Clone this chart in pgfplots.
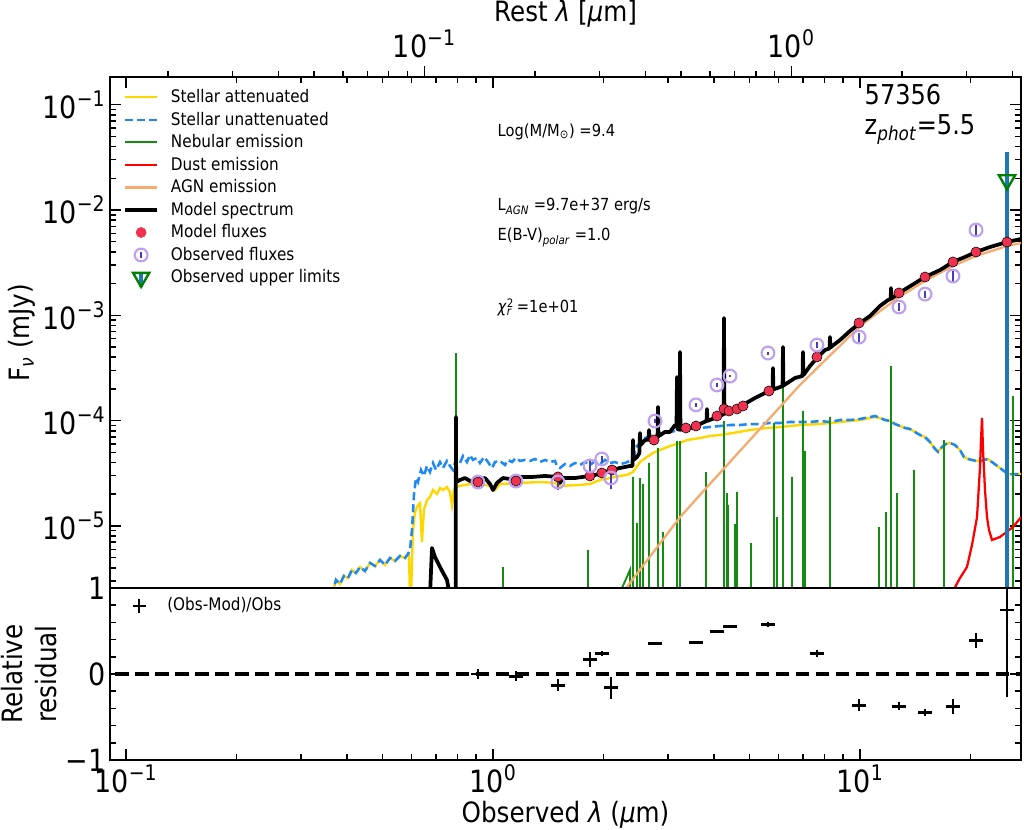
\documentclass[border=0pt]{standalone}
\usepackage{fontspec}
\setmainfont{DejaVu Sans}[FakeStretch=0.88]
\usepackage{pgfplots}
\usepackage{pgfplotstable}
\pgfplotsset{compat=1.18}

\definecolor{stelatt}{RGB}{255,215,0}
\definecolor{stelunatt}{RGB}{30,136,245}
\definecolor{nebular}{RGB}{20,140,20}
\definecolor{dustc}{RGB}{255,0,0}
\definecolor{agnc}{RGB}{246,170,110}
\definecolor{modflux}{RGB}{240,50,80}
\definecolor{obsring}{RGB}{190,160,240}
\definecolor{obsbar}{RGB}{70,60,190}
\definecolor{ulbar}{RGB}{31,119,180}
\definecolor{ulgreen}{RGB}{0,128,0}

% stellar continuum, unattenuated (wavelength in micron, flux in mJy)
\pgfplotstableread{
wl f
0.3641 2.16e-6
0.3733 3.07e-6
0.3829 2.81e-6
0.3926 3.35e-6
0.4026 3.20e-6
0.4129 3.82e-6
0.4233 3.57e-6
0.4341 4.07e-6
0.4479 3.73e-6
0.4623 4.45e-6
0.4771 4.16e-6
0.4922 4.75e-6
0.5080 4.26e-6
0.5241 4.96e-6
0.5408 4.64e-6
0.5580 5.18e-6
0.5757 4.96e-6
0.5867 5.41e-6
0.5941 5.91e-6
0.6016 9.14e-6
0.6092 1.97e-5
0.6169 2.85e-5
0.6247 2.61e-5
0.6365 3.40e-5
0.6485 2.98e-5
0.6609 3.71e-5
0.6735 3.25e-5
0.6863 3.96e-5
0.6993 3.40e-5
0.7172 4.04e-5
0.7308 3.55e-5
0.7491 4.14e-5
0.7634 3.71e-5
0.7779 3.40e-5
0.7927 4.32e-5
0.8129 3.96e-5
0.8284 4.61e-5
0.8495 4.04e-5
0.8656 4.71e-5
0.8822 4.23e-5
0.9046 4.42e-5
0.9217 3.96e-5
0.9451 4.51e-5
0.9691 4.04e-5
0.9937 3.55e-5
1.0126 4.04e-5
1.0449 4.14e-5
1.0782 3.79e-5
1.0987 4.23e-5
1.1265 4.04e-5
1.1551 4.42e-5
1.1846 4.14e-5
1.2224 4.23e-5
1.2613 4.14e-5
1.3015 4.32e-5
1.3430 4.04e-5
1.3858 4.23e-5
1.4300 4.04e-5
1.4756 4.14e-5
1.4942 3.71e-5
1.5226 3.55e-5
1.5711 3.87e-5
1.6211 3.71e-5
1.6728 3.96e-5
1.7262 3.79e-5
1.7812 4.04e-5
1.8380 3.79e-5
1.8965 4.14e-5
1.9570 3.87e-5
2.0194 4.23e-5
2.0838 3.96e-5
2.1500 4.04e-5
2.2186 3.87e-5
2.2893 3.96e-5
2.3622 4.14e-5
2.4222 4.71e-5
2.4683 5.74e-5
2.5152 6.13e-5
2.5953 6.83e-5
2.6779 7.14e-5
2.7633 7.14e-5
2.8514 7.46e-5
3.0360 7.80e-5
3.2328 8.14e-5
3.4419 8.32e-5
3.6647 8.51e-5
3.9019 8.69e-5
4.1547 8.89e-5
4.4237 9.08e-5
4.7099 9.08e-5
5.0150 9.28e-5
5.3396 9.28e-5
5.6849 9.49e-5
6.0530 9.49e-5
6.4448 9.70e-5
6.8624 9.70e-5
7.3065 9.70e-5
7.7799 9.91e-5
8.2836 9.70e-5
8.8198 1.013e-4
9.3921 1.013e-4
10.000 1.036e-4
10.648 1.082e-4
10.988 1.106e-4
11.338 1.058e-4
11.700 1.013e-4
12.074 9.91e-5
12.458 9.28e-5
12.854 8.89e-5
13.264 8.51e-5
13.686 8.32e-5
14.122 7.80e-5
14.572 7.30e-5
15.036 6.99e-5
15.515 6.26e-5
16.010 5.38e-5
16.315 5.04e-5
16.729 5.62e-5
17.153 6.00e-5
17.588 6.13e-5
18.149 5.87e-5
18.729 5.26e-5
19.205 4.51e-5
19.693 4.32e-5
20.192 4.23e-5
20.708 4.14e-5
21.233 4.14e-5
21.771 4.23e-5
22.324 4.32e-5
22.891 4.04e-5
23.471 3.79e-5
24.068 3.55e-5
24.679 3.32e-5
25.311 3.11e-5
26.282 3.11e-5
27.460 3.11e-5
}\stelunatt

% stellar continuum, attenuated
\pgfplotstableread{
wl f
0.3641 2.16e-6
0.3733 3.07e-6
0.3829 2.81e-6
0.3926 3.35e-6
0.4026 3.20e-6
0.4129 3.82e-6
0.4233 3.57e-6
0.4341 4.07e-6
0.4479 3.73e-6
0.4623 4.45e-6
0.4771 4.16e-6
0.4922 4.75e-6
0.5080 4.26e-6
0.5241 4.96e-6
0.5408 4.64e-6
0.5580 5.18e-6
0.5757 4.96e-6
0.5867 5.41e-6
0.5904 5.18e-6
0.5941 2.16e-6
0.5978 2.16e-6
0.6054 9.14e-6
0.6130 1.35e-5
0.6247 1.58e-5
0.6325 1.65e-5
0.6405 7.03e-6
0.6485 1.42e-5
0.6609 1.76e-5
0.6735 1.88e-5
0.6863 2.19e-5
0.7037 2.01e-5
0.7172 2.29e-5
0.7308 2.19e-5
0.7491 2.34e-5
0.7634 2.10e-5
0.7731 1.58e-5
0.7828 2.19e-5
0.7927 2.34e-5
0.8129 2.40e-5
0.8656 2.50e-5
0.9217 2.50e-5
0.9814 2.40e-5
1.0126 2.19e-5
1.0449 2.50e-5
1.1846 2.56e-5
1.3430 2.61e-5
1.4849 2.56e-5
1.5036 2.29e-5
1.5226 2.40e-5
1.7262 2.45e-5
1.8380 2.50e-5
1.9570 2.73e-5
2.0838 2.85e-5
2.2186 2.98e-5
2.3182 3.05e-5
2.4071 3.25e-5
2.5152 4.04e-5
2.6280 4.51e-5
2.7288 4.93e-5
2.8514 5.26e-5
3.0360 5.74e-5
3.2328 6.13e-5
3.3777 6.54e-5
3.6647 6.83e-5
3.9019 7.14e-5
4.1547 7.30e-5
4.5077 7.63e-5
5.0150 8.14e-5
5.5788 8.51e-5
6.0530 8.69e-5
6.8624 9.08e-5
7.7799 9.28e-5
8.8198 9.70e-5
10.000 1.013e-4
10.648 1.058e-4
10.988 1.082e-4
11.338 1.058e-4
11.700 1.013e-4
12.074 9.91e-5
12.458 9.28e-5
12.854 8.89e-5
13.264 8.51e-5
13.686 8.32e-5
14.122 7.80e-5
14.572 7.30e-5
15.036 6.99e-5
15.515 6.26e-5
16.010 5.38e-5
16.315 5.04e-5
16.729 5.62e-5
17.153 6.00e-5
17.588 6.13e-5
18.149 5.87e-5
18.729 5.26e-5
19.205 4.51e-5
19.693 4.32e-5
20.192 4.23e-5
20.708 4.14e-5
21.233 4.14e-5
21.771 4.23e-5
22.324 4.32e-5
22.891 4.04e-5
23.471 3.79e-5
24.068 3.55e-5
24.679 3.32e-5
25.311 3.11e-5
26.282 3.11e-5
27.460 3.11e-5
}\stelatt

% nebular lines and continuum (each line drawn up from below the frame)
\pgfplotstableread{
wl f
0.7927 1e-8
0.7927 4.38e-4
0.7927 1e-8
1.0648 1e-8
1.0648 4.07e-6
1.0648 1e-8
1.815 1e-8
1.815 5.91e-6
1.815 1e-8
2.180 1e-8
2.197 2.16e-6
2.3622 3.82e-6
2.400 1e-8
2.4071 1e-8
2.4071 2.92e-5
2.4071 1e-8
2.4683 1e-8
2.4683 1.07e-5
2.4683 1e-8
2.5152 1e-8
2.5152 2.85e-5
2.5152 1e-8
2.5629 1e-8
2.5629 2.50e-5
2.5629 1e-8
2.6612 1e-8
2.6612 3.96e-5
2.6612 1e-8
2.8158 1e-8
2.8158 5.50e-5
2.8158 1e-8
2.9055 1e-8
2.9055 8.75e-6
2.9055 1e-8
3.1723 1e-8
3.1723 6.40e-5
3.1723 1e-8
3.2328 1e-8
3.2328 6.40e-5
3.2328 1e-8
3.8052 1e-8
3.8052 3.25e-5
3.8052 1e-8
4.2603 1e-8
4.2603 9.91e-5
4.2603 1e-8
4.3412 1e-8
4.3412 2.05e-5
4.3412 1e-8
4.3685 1e-8
4.3685 1.58e-5
4.3685 1e-8
4.5646 1e-8
4.5646 1.04e-5
4.5646 1e-8
4.6222 1e-8
4.6222 2.10e-5
4.6222 1e-8
5.0466 1e-8
5.0466 6.88e-6
5.0466 1e-8
5.8294 1e-8
5.8294 9.49e-5
5.8294 1e-8
5.9401 1e-8
5.9401 1.21e-5
5.9401 1e-8
6.1681 1e-8
6.1681 2.13e-4
6.1681 1e-8
6.5261 1e-8
6.5261 2.92e-5
6.5261 1e-8
6.9929 1e-8
6.9929 1.234e-4
6.9929 1e-8
7.0811 1e-8
7.0811 5.14e-5
7.0811 1e-8
8.2836 1e-8
8.2836 1.082e-4
8.2836 1e-8
11.267 1e-8
11.267 9.76e-6
11.267 1e-8
11.774 1e-8
11.774 1.35e-5
11.774 1e-8
12.150 1e-8
12.150 3.30e-4
12.150 1e-8
12.615 1e-8
12.615 2.05e-5
12.615 1e-8
14.034 1e-8
14.034 3.40e-5
14.034 1e-8
16.940 1e-8
16.940 6.54e-5
16.940 1e-8
26.118 1e-8
26.118 1.71e-4
26.118 1e-8
}\nebular

% dust emission
\pgfplotstableread{
wl f
17.370 1.97e-6
18.729 3.20e-6
19.570 4.07e-6
20.192 6.59e-6
20.838 1.21e-5
21.233 3.62e-5
21.366 6.54e-5
21.501 1.058e-4
21.636 5.26e-5
21.908 2.19e-5
22.184 1.21e-5
22.465 9.14e-6
22.891 7.35e-6
24.068 7.85e-6
26.118 9.76e-6
27.460 1.21e-5
}\dust

% AGN emission
\pgfplotstableread{
wl f
2.2186 2.16e-6
3.2328 1.21e-5
3.6647 1.97e-5
6.8624 2.18e-4
10.000 7.91e-4
12.774 1.49e-3
15.036 2.12e-3
17.923 2.94e-3
20.708 3.66e-3
25.152 4.55e-3
27.460 4.86e-3
}\agn

% total model spectrum
\pgfplotstableread{
wl f
0.6735 2.16e-6
0.6820 6.17e-6
0.6950 5.07e-6
0.7172 4.07e-6
0.7491 3.07e-6
0.7634 2.16e-6
0.7915 2.16e-6
0.7927 1.082e-4
0.7940 2.61e-5
0.8129 2.73e-5
0.8389 2.85e-5
0.8656 2.67e-5
0.9102 2.73e-5
0.9510 2.85e-5
0.9814 2.50e-5
1.0000 2.19e-5
1.0254 2.56e-5
1.0648 2.85e-5
1.1125 2.79e-5
1.1846 2.92e-5
1.2853 2.92e-5
1.3858 2.98e-5
1.4942 2.92e-5
1.5226 2.56e-5
1.5515 2.85e-5
1.6728 2.85e-5
1.8380 2.98e-5
1.9570 3.11e-5
2.1100 3.40e-5
2.2186 3.55e-5
2.3622 3.71e-5
2.3995 3.71e-5
2.4071 6.54e-5
2.4150 4.23e-5
2.4683 4.51e-5
2.5050 4.90e-5
2.5152 7.63e-5
2.5250 5.87e-5
2.5953 6.54e-5
2.6520 6.60e-5
2.6612 8.14e-5
2.6700 6.54e-5
2.7460 6.83e-5
2.8080 6.95e-5
2.8158 1.35e-4
2.8240 7.10e-5
2.9422 7.80e-5
3.0360 7.80e-5
3.1328 9.08e-5
3.1630 8.90e-5
3.1723 2.59e-4
3.1810 8.30e-5
3.2240 8.20e-5
3.2328 4.48e-4
3.2420 8.20e-5
3.4419 8.51e-5
3.6647 9.28e-5
3.8190 9.91e-5
3.8292 1.29e-4
3.8390 9.95e-5
4.0264 1.058e-4
4.2490 1.150e-4
4.2603 9.43e-4
4.2720 1.160e-4
4.5646 1.29e-4
4.7994 1.41e-4
5.1746 1.64e-4
5.5788 1.87e-4
5.7780 1.96e-4
5.7929 3.16e-4
5.8080 1.98e-4
6.1520 2.12e-4
6.1681 5.00e-4
6.1840 2.15e-4
6.6502 2.54e-4
6.9750 2.65e-4
6.9929 4.48e-4
7.0110 2.70e-4
7.3065 3.30e-4
7.6348 3.93e-4
8.0278 4.68e-4
8.2620 4.85e-4
8.2836 6.22e-4
8.3050 4.95e-4
8.8198 5.82e-4
9.3921 7.10e-4
10.000 8.45e-4
10.648 9.85e-4
11.338 1.226e-3
11.923 1.397e-3
12.120 1.430e-3
12.150 1.816e-3
12.180 1.440e-3
12.774 1.628e-3
13.859 1.940e-3
15.036 2.31e-3
16.521 2.69e-3
17.923 3.21e-3
19.326 3.58e-3
20.708 3.99e-3
22.606 4.45e-3
25.152 4.97e-3
27.460 5.30e-3
}\model

% model fluxes in the filters
\pgfplotstableread{
wl f
0.910 2.61e-5
1.155 2.67e-5
1.503 2.92e-5
1.838 2.98e-5
1.980 3.18e-5
2.110 3.40e-5
2.746 6.54e-5
3.356 8.51e-5
3.574 8.89e-5
4.077 1.106e-4
4.260 1.289e-4
4.396 1.234e-4
4.622 1.289e-4
4.799 1.376e-4
5.649 1.911e-4
7.635 4.02e-4
9.940 8.45e-4
12.77 1.63e-3
15.04 2.31e-3
17.92 3.21e-3
20.71 3.99e-3
25.15 4.97e-3
}\modfluxes

% observed fluxes with uncertainties
\pgfplotstableread{
wl f err
0.910 2.61e-5 0.35e-5
1.155 2.67e-5 0.35e-5
1.503 2.61e-5 0.40e-5
1.838 3.71e-5 0.50e-5
1.980 4.32e-5 0.30e-5
2.095 2.85e-5 0.60e-5
2.763 9.90e-5 0.50e-5
3.574 1.41e-4 0.05e-4
4.077 2.18e-4 0.08e-4
4.424 2.65e-4 0.08e-4
5.614 4.38e-4 0.15e-4
7.635 5.22e-4 0.30e-4
9.940 6.22e-4 0.60e-4
12.77 1.20e-3 0.10e-3
15.04 1.59e-3 0.12e-3
17.92 2.36e-3 0.30e-3
20.71 6.46e-3 0.80e-3
}\obsfluxes

% relative residuals (Obs-Mod)/Obs
\pgfplotstableread{
wl r err
0.910 0.000 0.063
1.155 -0.024 0.055
1.503 -0.130 0.070
1.838 0.173 0.087
1.980 0.236 0.030
2.095 -0.161 0.126
2.763 0.354 0.0
3.574 0.370 0.0
4.077 0.496 0.010
4.424 0.555 0.010
5.614 0.571 0.030
7.635 0.236 0.040
9.940 -0.366 0.070
12.77 -0.374 0.050
15.04 -0.449 0.040
17.92 -0.382 0.087
20.71 0.394 0.087
25.152 0.744 1.010
}\resid

\begin{document}
\begin{tikzpicture}
\path[use as bounding box] (-82.5pt,-181.5pt) rectangle (685.5pt,441pt);

% rest-frame wavelength axis on top (z = 5.5)
\begin{axis}[
  scale only axis, width=683.25pt, height=383.25pt,
  at={(0,0)}, anchor=south west,
  xmode=log, xmin=0.013917, xmax=4.2246, ymin=0, ymax=1,
  axis x line*=top, hide y axis,
  axis line style={line width=1.2pt},
  every tick/.style={line width=1.1pt, black},
  major tick length=8pt, minor tick length=4.5pt,
  tick align=outside,
  xtick={0.1,1}, xticklabels={10\textsuperscript{−1},10\textsuperscript{0}},
  minor xtick={0.02,0.03,0.04,0.05,0.06,0.07,0.08,0.09,0.2,0.3,0.4,0.5,0.6,0.7,0.8,0.9,2,3,4},
  xticklabel style={font=\fontsize{23}{27}\selectfont, anchor=center, yshift=17pt},
  xlabel={Rest \textit{λ} [\textit{μ}m]},
  xlabel style={font=\fontsize{21}{25}\selectfont, at={(axis description cs:0.5,1.1233)}, anchor=center},
]
\end{axis}

% SED panel
\begin{axis}[
  scale only axis, width=683.25pt, height=383.25pt,
  at={(0,0)}, anchor=south west,
  xmode=log, xmin=0.09046, xmax=27.46,
  ymode=log, ymin=2.572e-6, ymax=0.18329,
  axis line style={line width=1.2pt},
  every tick/.style={line width=1.1pt, black},
  major tick length=8pt, minor tick length=4.5pt,
  tick align=inside,
  xtick={0.1,1,10},
  minor xtick={0.2,0.3,0.4,0.5,0.6,0.7,0.8,0.9,2,3,4,5,6,7,8,9,20},
  xtick pos=right, xticklabels={},
  ytick={1e-5,1e-4,1e-3,1e-2,1e-1},
  yticklabels={10\textsuperscript{−5},10\textsuperscript{−4},10\textsuperscript{−3},10\textsuperscript{−2},10\textsuperscript{−1}},
  minor ytick={3e-6,4e-6,5e-6,6e-6,7e-6,8e-6,9e-6,2e-5,3e-5,4e-5,5e-5,6e-5,7e-5,8e-5,9e-5,2e-4,3e-4,4e-4,5e-4,6e-4,7e-4,8e-4,9e-4,2e-3,3e-3,4e-3,5e-3,6e-3,7e-3,8e-3,9e-3,2e-2,3e-2,4e-2,5e-2,6e-2,7e-2,8e-2,9e-2},
  ytick pos=both, yticklabel pos=left,
  tick label style={font=\fontsize{23}{27}\selectfont},
  ylabel={F\textsubscript{\textit{ν}} (mJy)},
  ylabel style={font=\fontsize{21}{25}\selectfont, at={(axis description cs:-0.0966,0.5)}, anchor=center},
  legend image code/.code={\draw[#1] (0pt,0pt) -- (24pt,0pt);},
  legend cell align=left,
  legend style={at={(axis description cs:0,1)}, anchor=north west,
    xshift=9.75pt, yshift=-8pt, draw=none, fill=none, inner sep=0pt,
    row sep=2.9pt, column sep=9pt,
    nodes={inner sep=0pt, text height=11pt, text depth=3pt, anchor=west},
    font=\fontsize{13}{15}\selectfont},
]
\addplot[stelatt, line width=1.8pt] table {\stelatt};
\addlegendentry{Stellar attenuated}
\addplot[stelunatt, line width=1.9pt, dash pattern=on 6pt off 3pt] table {\stelunatt};
\addlegendentry{Stellar unattenuated}
\addplot[nebular, line width=1.4pt] table {\nebular};
\addlegendentry{Nebular emission}
\addplot[dustc, line width=1.7pt] table {\dust};
\addlegendentry{Dust emission}
\addplot[agnc, line width=1.7pt] table {\agn};
\addlegendentry{AGN emission}
\addplot[black, line width=2.8pt, line join=round] table {\model};
\addlegendentry{Model spectrum}
% error bar of the upper limit
\addplot[ulbar, line width=3pt, forget plot] coordinates {(25.152,1e-8) (25.152,3.55e-2)};
\addplot[only marks, mark=*, mark size=3.8pt, mark options={draw=none, fill=modflux},
  legend image code/.code={\path[draw=none, fill=none] (0pt,0pt)--(24pt,0pt); \fill[modflux] (12pt,0pt) circle (3.8pt);}] table {\modfluxes};
\addlegendentry{Model fluxes}
\addplot[only marks, mark=o, mark size=4.8pt, mark options={draw=obsring, line width=1.6pt},
  legend image code/.code={\path[draw=none, fill=none] (0pt,0pt)--(24pt,0pt); \draw[obsring, line width=1.6pt] (12pt,0pt) circle (4.8pt);
    \draw[obsbar, line width=1.3pt] (12pt,-2.6pt)--(12pt,2.6pt);},
  error bars/.cd, y dir=both, y explicit, error mark=none,
  error bar style={obsbar, line width=1.3pt}] table[y error=err] {\obsfluxes};
\addlegendentry{Observed fluxes}
\addplot[only marks, mark=triangle, mark size=7pt,
  mark options={rotate=180, draw=ulgreen, line width=1.8pt},
  legend image code/.code={\path[draw=none, fill=none] (0pt,0pt)--(24pt,0pt); \draw[ulbar, line width=2.5pt] (12pt,-7pt)--(12pt,4pt);
    \draw[ulgreen, line width=1.8pt] (12pt,-7pt)--(5.94pt,3.5pt)--(18.06pt,3.5pt)--cycle;}]
  coordinates {(25.152,1.93e-2)};
\addlegendentry{Observed upper limits}

\node[anchor=base west, font=\fontsize{12.5}{15}\selectfont] at (rel axis cs:0.4204,0.8845) {Log(M/M\textsubscript{⊙}) =9.4};
\node[anchor=base west, font=\fontsize{12.5}{15}\selectfont] at (rel axis cs:0.4204,0.7378) {L\textsubscript{\textit{AGN}} =9.7e+37 erg/s};
\node[anchor=base west, font=\fontsize{12.5}{15}\selectfont] at (rel axis cs:0.4204,0.6791) {E(B-V)\textsubscript{\textit{polar}} =1.0};
\node[anchor=base west, font=\fontsize{12.5}{15}\selectfont] at (rel axis cs:0.4204,0.5382) {\textit{χ}\rlap{\textsuperscript{2}}\textsubscript{\textit{r}} =1e+01};
\node[anchor=base west, font=\fontsize{20.5}{24}\selectfont] at (rel axis cs:0.8233,0.9452) {57356};
\node[anchor=base west, font=\fontsize{20.5}{24}\selectfont] at (rel axis cs:0.8233,0.8865) {z\textsubscript{\textit{phot}}=5.5};
\end{axis}

% residual panel
\begin{axis}[
  scale only axis, width=683.25pt, height=129pt,
  at={(0,0)}, anchor=north west,
  xmode=log, xmin=0.09046, xmax=27.46,
  ymin=-1, ymax=1,
  axis line style={line width=1.2pt},
  every tick/.style={line width=1.1pt, black},
  major tick length=8pt, minor tick length=4.5pt,
  tick align=inside,
  xtick={0.1,1,10},
  minor xtick={0.2,0.3,0.4,0.5,0.6,0.7,0.8,0.9,2,3,4,5,6,7,8,9,20},
  xtick pos=left,
  xticklabels={10\textsuperscript{−1},10\textsuperscript{0},10\textsuperscript{1}},
  ytick={-1,0,1}, yticklabels={−1,0,1},
  minor ytick={-0.8,-0.6,-0.4,-0.2,0.2,0.4,0.6,0.8},
  ytick pos=both, yticklabel pos=left,
  tick label style={font=\fontsize{23}{27}\selectfont},
  xlabel={Observed \textit{λ} (\textit{μ}m)},
  xlabel style={font=\fontsize{21}{25}\selectfont, at={(axis description cs:0.5,-0.32)}, anchor=center},
  ylabel={Relative\\residual},
  ylabel style={font=\fontsize{21}{25}\selectfont, at={(axis description cs:-0.089,0.5)}, anchor=center, align=center},
  legend cell align=left,
  legend style={at={(axis description cs:0,1)}, anchor=north west,
    xshift=9.75pt, yshift=-7pt, draw=none, fill=none, inner sep=0pt,
    column sep=9pt,
    nodes={inner sep=0pt, text height=9.5pt, text depth=2.5pt, anchor=west},
    font=\fontsize{13}{15}\selectfont},
]
\addplot[black, line width=3pt, dash pattern=on 10pt off 5pt, forget plot] coordinates {(0.05,0) (30,0)};
\addplot[only marks, mark=-, mark size=5.5pt, mark options={line width=2.2pt, black},
  legend image code/.code={\path[draw=none, fill=none] (0pt,0pt)--(24pt,0pt); \draw[black, line width=2pt] (7pt,0pt)--(17pt,0pt);
    \draw[black, line width=1.8pt] (12pt,-5.5pt)--(12pt,5.5pt);},
  error bars/.cd, y dir=both, y explicit, error mark=none,
  error bar style={black, line width=1.8pt}] table[y=r, y error=err] {\resid};
\addlegendentry{(Obs-Mod)/Obs}
\end{axis}
\end{tikzpicture}
\end{document}
